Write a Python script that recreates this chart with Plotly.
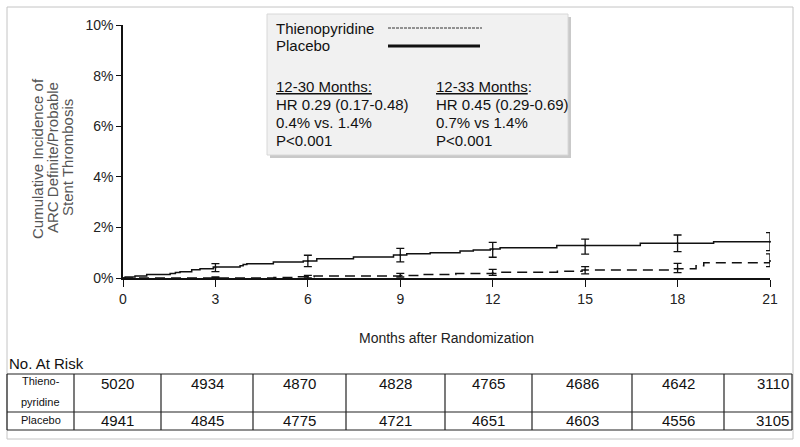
import plotly.graph_objects as go

# ---------------- data ----------------
placebo_t = [0, 0.07, 0.39, 0.77, 1.53, 1.7, 1.85, 2.23, 2.5, 2.93, 3.8, 3.9, 4.02, 4.88, 5.85,
             6.29, 7.48, 8.78, 9.21, 9.97, 10.94, 11.37, 11.92, 12.24, 14.08, 16.79, 19.17, 21]
placebo_y = [0, 0.04, 0.08, 0.14, 0.18, 0.22, 0.25, 0.33, 0.37, 0.43, 0.48, 0.53, 0.56, 0.63, 0.67,
             0.76, 0.83, 0.91, 0.96, 1.0, 1.07, 1.11, 1.15, 1.2, 1.28, 1.37, 1.43, 1.43]

thieno_t = [0, 4.9, 5.6, 6.2, 9.0, 9.6, 10.8, 12.2, 14.1, 14.9, 17.9, 18.6, 18.85, 21]
thieno_y = [0, 0.02, 0.05, 0.08, 0.1, 0.14, 0.18, 0.23, 0.27, 0.32, 0.37, 0.48, 0.6, 0.62]

months = [3, 6, 9, 12, 15, 18, 21]
placebo_est = [0.41, 0.67, 0.91, 1.13, 1.28, 1.37, 1.43]
placebo_lo = [0.25, 0.45, 0.64, 0.82, 0.94, 1.04, 1.08]
placebo_hi = [0.57, 0.90, 1.17, 1.41, 1.54, 1.70, 1.79]
thieno_est = [0.0, 0.05, 0.10, 0.21, 0.32, 0.38, 0.67]
thieno_lo = [0.0, 0.0, 0.04, 0.10, 0.16, 0.21, 0.45]
thieno_hi = [0.04, 0.10, 0.18, 0.34, 0.45, 0.58, 0.95]

x_ticks = [0, 3, 6, 9, 12, 15, 18, 21]
y_ticks = [0, 2, 4, 6, 8, 10]
y_ticktext = ["0%", "2%", "4%", "6%", "8%", "10%"]

risk_thieno = [5020, 4934, 4870, 4828, 4765, 4686, 4642, 3110]
risk_placebo = [4941, 4845, 4775, 4721, 4651, 4603, 4556, 3105]

# ---------------- layout helpers ----------------
W, H = 800, 447
L, R, T, B = 123, 770, 25, 278  # plot area in px
FONT = "Arial, Liberation Sans, sans-serif"


def px(x):
    return (x - L) / (R - L)


def py(y):
    return (B - y) / (B - T)


fig = go.Figure()

fig.add_trace(go.Scatter(x=placebo_t, y=placebo_y, mode="lines", line_shape="hv",
                         line=dict(color="#111", width=1.5), showlegend=False, hoverinfo="skip"))
fig.add_trace(go.Scatter(x=thieno_t, y=thieno_y, mode="lines", line_shape="hv",
                         line=dict(color="#111", width=1.5, dash="10px,6px"), showlegend=False,
                         hoverinfo="skip"))


def ebar(est, lo, hi):
    return dict(type="data", symmetric=False,
                array=[h - e for h, e in zip(hi, est)],
                arrayminus=[e - l for e, l in zip(est, lo)],
                color="#111", thickness=1.3, width=4)


fig.add_trace(go.Scatter(x=months, y=placebo_est, mode="markers", marker=dict(size=2, color="#111"),
                         error_y=ebar(placebo_est, placebo_lo, placebo_hi), cliponaxis=False,
                         showlegend=False, hoverinfo="skip"))
fig.add_trace(go.Scatter(x=months, y=thieno_est, mode="markers", marker=dict(size=2, color="#111"),
                         error_y=ebar(thieno_est, thieno_lo, thieno_hi), cliponaxis=False,
                         showlegend=False, hoverinfo="skip"))

shapes = []
ann = []

# outer frame
shapes.append(dict(type="rect", xref="paper", yref="paper", x0=px(7), x1=px(793), y0=py(439), y1=py(7),
                   line=dict(color="#c4c4c4", width=1), layer="below"))

# inset box with shadow
shapes.append(dict(type="rect", xref="paper", yref="paper", x0=px(270), x1=px(571), y0=py(158), y1=py(17),
                   line=dict(width=0), fillcolor="#c9c9c9", layer="above"))
shapes.append(dict(type="rect", xref="paper", yref="paper", x0=px(267), x1=px(568), y0=py(155), y1=py(14),
                   line=dict(color="#d8d8d8", width=1), fillcolor="#f1f1f1", layer="above"))
# legend line samples
shapes.append(dict(type="line", xref="paper", yref="paper", x0=px(388), x1=px(482), y0=py(28), y1=py(28),
                   line=dict(color="#333", width=1, dash="3px,1px"), layer="above"))
shapes.append(dict(type="line", xref="paper", yref="paper", x0=px(388), x1=px(480), y0=py(46), y1=py(46),
                   line=dict(color="#111", width=3), layer="above"))


def text(x, y, s, size=15, anchor="left", color="#111", angle=0):
    ann.append(dict(xref="paper", yref="paper", x=px(x), y=py(y), text=s, showarrow=False,
                    xanchor=anchor, yanchor="middle", textangle=angle,
                    font=dict(family=FONT, size=size, color=color)))


text(274, 28, "Thienopyridine")
text(274, 46, "Placebo")
text(274, 86, "<u>12-30 Months:</u>")
text(274, 104, "HR 0.29 (0.17-0.48)")
text(274, 122, "0.4% vs. 1.4%")
text(274, 140, "P<0.001")
text(434, 86, "<u>12-33 Months</u>:")
text(434, 104, "HR 0.45 (0.29-0.69)")
text(434, 122, "0.7% vs 1.4%")
text(434, 140, "P<0.001")

# y-axis title (three rotated lines)
for xx, s in [(37, "Cumulative Incidence of"), (52, "ARC Definite/Probable"), (67, "Stent Thrombosis")]:
    text(xx, 158, s, size=15, anchor="center", color="#555", angle=-90)

# x-axis title
text(446, 338, "Months after Randomization", size=14, anchor="center", color="#222")

# No. at risk table
text(7, 363, "No. At Risk", size=15, color="#111")
cols = [7, 74, 161, 253, 346, 445, 532, 632, 724, 792]
top, mid, bot = 374, 412, 430
for yy in (top, mid, bot):
    shapes.append(dict(type="line", xref="paper", yref="paper", x0=px(cols[0]), x1=px(cols[-1]),
                       y0=py(yy), y1=py(yy), line=dict(color="#222", width=1.2)))
for cx in cols:
    shapes.append(dict(type="line", xref="paper", yref="paper", x0=px(cx), x1=px(cx),
                       y0=py(bot), y1=py(top), line=dict(color="#222", width=1.2)))

text((cols[0] + cols[1]) / 2, 381, "Thieno-", size=11, anchor="center")
text((cols[0] + cols[1]) / 2, 402, "pyridine", size=11, anchor="center")
text((cols[0] + cols[1]) / 2, 420, "Placebo", size=11, anchor="center")
for i, (a, b) in enumerate(zip(risk_thieno, risk_placebo)):
    c0, c1 = cols[i + 1], cols[i + 2]
    if i == len(risk_thieno) - 1:
        text(c1 - 1, 383, str(a), anchor="right")
        text(c1 - 1, 421, str(b), anchor="right")
    else:
        text((c0 + c1) / 2, 383, str(a), anchor="center")
        text((c0 + c1) / 2, 421, str(b), anchor="center")

fig.update_layout(
    width=W, height=H,
    margin=dict(l=L, r=W - R, t=T, b=H - B),
    paper_bgcolor="white", plot_bgcolor="white",
    shapes=shapes, annotations=ann,
    xaxis=dict(range=[0, 21], tickmode="array", tickvals=x_ticks, ticks="outside", ticklen=7,
               tickwidth=1.3, tickcolor="#111", showline=True, linecolor="#111", linewidth=1.5,
               showgrid=False, zeroline=False, tickfont=dict(family=FONT, size=14, color="#222"),
               fixedrange=True),
    yaxis=dict(range=[0, 10], tickmode="array", tickvals=y_ticks, ticktext=y_ticktext,
               ticks="outside", ticklen=5, tickwidth=1.3, tickcolor="#111", showline=True,
               linecolor="#111", linewidth=1.5, showgrid=False, zeroline=False,
               tickfont=dict(family=FONT, size=14, color="#222"), fixedrange=True),
)

fig.write_html("out.html", config={"displayModeBar": False},
               post_script="document.body.style.margin='0';")
